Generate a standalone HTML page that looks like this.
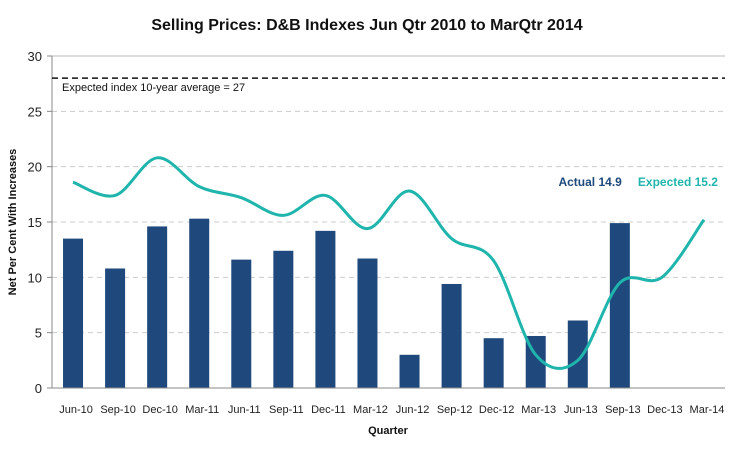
<!DOCTYPE html>
<html><head><meta charset="utf-8"><style>
body{margin:0;background:#fff;font-family:"Liberation Sans",sans-serif}
svg text{font-family:"Liberation Sans",sans-serif}
</style></head><body>
<svg id="c" width="734" height="444">
<text x="367" y="30" text-anchor="middle" font-size="16" font-weight="bold" fill="#111">Selling Prices: D&amp;B Indexes Jun Qtr 2010 to MarQtr 2014</text>
<g id="grid"></g><g id="bars"></g><g id="line"></g><g id="axes"></g>
<text transform="translate(16,222) rotate(-90)" text-anchor="middle" font-size="11" font-weight="bold" fill="#111">Net Per Cent With Increases</text>
<text x="388" y="434" text-anchor="middle" font-size="11" font-weight="bold" fill="#111">Quarter</text>
</svg>
<script>
const categories=["Jun-10","Sep-10","Dec-10","Mar-11","Jun-11","Sep-11","Dec-11","Mar-12","Jun-12","Sep-12","Dec-12","Mar-13","Jun-13","Sep-13","Dec-13","Mar-14"];
const actual=[13.5,10.8,14.6,15.3,11.6,12.4,14.2,11.7,3.0,9.4,4.5,4.7,6.1,14.9,null,null];
const expected=[18.6,17.4,20.8,18.2,17.2,15.6,17.4,14.4,17.8,13.5,11.5,3.0,2.5,9.5,10.0,15.2];
const yTicks=[0,5,10,15,20,25,30];
const avgLine=28;
const NS="http://www.w3.org/2000/svg";
const L=52,R=725,T=56,B=388,ymax=30;
const bw=(R-L)/categories.length;
const x=i=>L+bw*(i+0.5);
const y=v=>B-(B-T)*v/ymax;
function mk(p,t,a){const e=document.createElementNS(NS,t);for(const k in a)e.setAttribute(k,a[k]);document.getElementById(p).appendChild(e);return e;}
yTicks.forEach(v=>{
 if(v>0&&v<30){const g=mk("grid","line",{x1:L,x2:R,y1:y(v),y2:y(v),stroke:"#ccc","stroke-dasharray":"5,4"});
 
 }
 const t=mk("axes","text",{x:L-10,y:y(v)+5,"text-anchor":"end","font-size":"13",fill:"#222"});t.textContent=v;
 
 
 mk("axes","line",{x1:L-5,x2:L,y1:y(v),y2:y(v),stroke:"#888"});
});
mk("axes","line",{x1:L,x2:R,y1:T,y2:T,stroke:"#bbb"});
const ax=mk("axes","line",{x1:L,x2:L,y1:T,y2:B,stroke:"#888"});


const bx=mk("axes","line",{x1:L,x2:R,y1:B,y2:B,stroke:"#888"});


const av=mk("axes","line",{x1:L,x2:R,y1:y(avgLine),y2:y(avgLine),stroke:"#111","stroke-width":"1.5","stroke-dasharray":"6,4"});


const avt=mk("axes","text",{x:L+10,y:y(avgLine)+13,"font-size":"11",fill:"#111"});avt.textContent="Expected index 10-year average = 27";


categories.forEach((c,i)=>{
 const t=mk("axes","text",{x:x(i)+3,y:B+25,"text-anchor":"middle","font-size":"11",fill:"#222"});t.textContent=c;
 
 
 if(actual[i]!=null){const r=mk("bars","rect",{x:x(i)-10,y:y(actual[i]),width:20,height:B-y(actual[i]),fill:"#1f497d"});
 
 }
});
const P=expected.map((v,i)=>[x(i),y(v)]);
let d="M"+P[0][0]+","+P[0][1];
for(let i=0;i<P.length-1;i++){const p0=P[Math.max(i-1,0)],p1=P[i],p2=P[i+1],p3=P[Math.min(i+2,P.length-1)];
 d+=" C"+(p1[0]+(p2[0]-p0[0])/6)+","+(p1[1]+(p2[1]-p0[1])/6)+" "+(p2[0]-(p3[0]-p1[0])/6)+","+(p2[1]-(p3[1]-p1[1])/6)+" "+p2[0]+","+p2[1];}
const ln=mk("line","path",{d:d,fill:"none",stroke:"#1fb5ad","stroke-width":"3"});


const ie=expected.length-1;
const a1=mk("axes","text",{x:x(13)+2,y:186,"text-anchor":"end","font-size":"12","font-weight":"bold",fill:"#1f497d"});a1.textContent="Actual 14.9";


const a2=mk("axes","text",{x:x(ie)+14,y:186,"text-anchor":"end","font-size":"12","font-weight":"bold",fill:"#1fb5ad"});a2.textContent="Expected 15.2";


</script>
</body></html>
